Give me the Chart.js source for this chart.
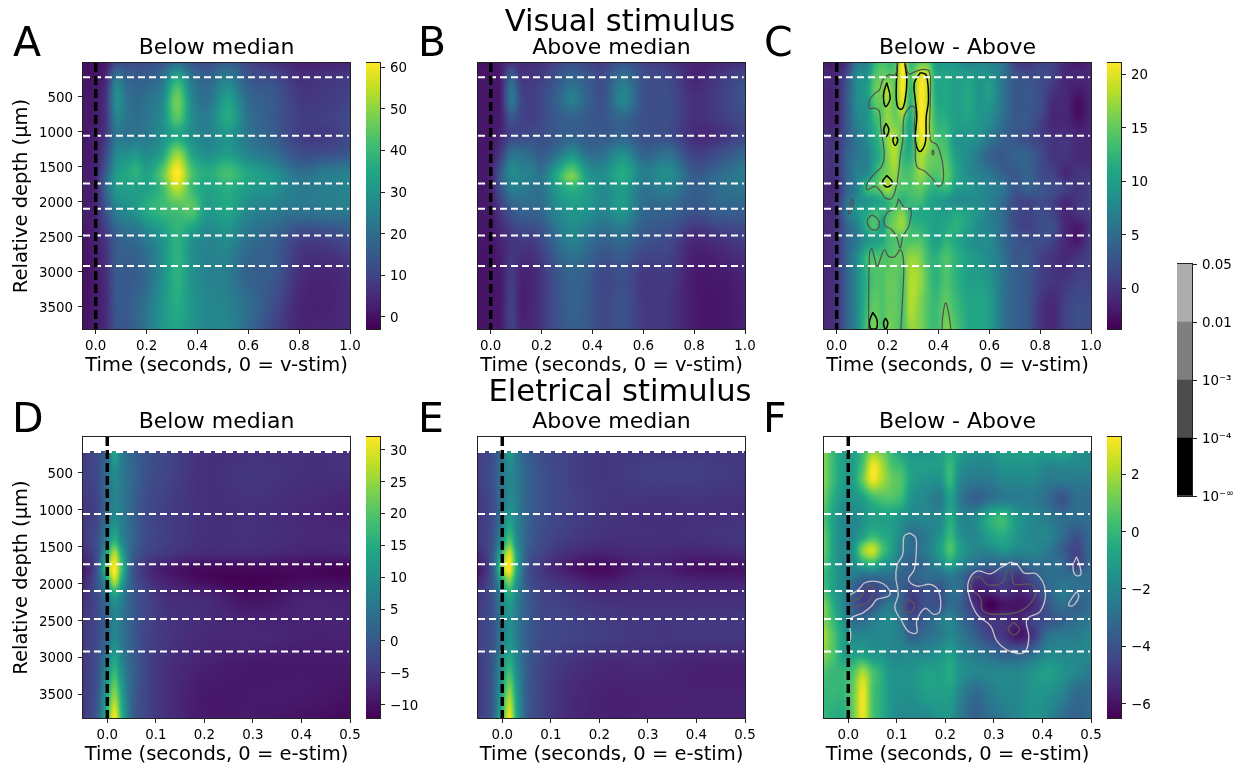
<!DOCTYPE html>
<html><head><meta charset="utf-8">
<style>
html,body{margin:0;padding:0;background:#fff;width:1247px;height:771px;overflow:hidden}
canvas{position:absolute}
.t{position:absolute;font-family:"DejaVu Sans";color:#000;white-space:nowrap;line-height:1em}
</style>
<script src="https://cdn.jsdelivr.net/npm/chart.js@4"></script>
</head><body>
<script>
// ---------- axis knots ----------
const timeAB = [-0.05,0,0.04,0.08,0.12,0.16,0.2,0.26,0.32,0.38,0.44,0.52,0.6,0.7,0.8,0.9,1.0];
const depthAB = [15,250,550,800,1050,1300,1550,1650,1800,2100,2500,3000,3500,3820];
const timeC = [-0.05,0,0.04,0.08,0.12,0.15,0.18,0.2,0.23,0.26,0.29,0.33,0.36,0.39,0.43,0.47,0.52,0.56,0.6,0.65,0.7,0.75,0.8,0.85,0.9,0.95,1.0];
const depthC = [15,200,400,650,900,1100,1350,1600,1800,2000,2150,2350,2550,2800,3100,3500,3820];
const timeDE = [-0.05,-0.02,0,0.015,0.03,0.05,0.08,0.12,0.2,0.3,0.4,0.5];
const depthDE = [203,500,1000,1400,1600,1800,1950,2200,2700,3100,3500,3820];
const timeF = [-0.05,-0.03,-0.01,0.01,0.03,0.05,0.07,0.09,0.11,0.13,0.16,0.19,0.21,0.23,0.26,0.29,0.32,0.35,0.38,0.41,0.44,0.47,0.5];
const depthF = [203,400,600,850,1100,1350,1550,1750,1900,2100,2300,2500,2700,2950,3200,3450,3820];
const layerDepths = [218,1057,1738,2100,2481,2919];
const ticksDepth = [500,1000,1500,2000,2500,3000,3500];
const ticksTimeV = [0,0.2,0.4,0.6,0.8,1.0];
const ticksTimeE = [0,0.1,0.2,0.3,0.4,0.5];
const ticksBarA = [0,10,20,30,40,50,60];
const ticksBarC = [0,5,10,15,20];
const ticksBarD = [-10,-5,0,5,10,15,20,25,30];
const ticksBarF = [-6,-4,-2,0,2];
const pLabels = ['10\u207B','10\u207B\u2074','10\u207B\u00B3','0.01','0.05'];

// ---------- values (rows = depth, columns = time) ----------
const gridA = [
[0,0,2,10,12,12,12,14,20,14,12,16,10,6,3,3,4],
[1,1,5,23,18,16,17,21,37,22,18,25,15,12,6,7,8],
[1,2,7,28,22,19,21,26,47,26,21,33,19,15,8,8,10],
[1,2,7,25,22,20,22,28,44,28,24,36,21,15,9,9,11],
[1,3,8,22,21,22,23,28,35,28,25,30,22,16,9,8,11],
[1,3,11,26,28,30,27,33,50,34,28,32,25,20,12,12,14],
[2,4,15,30,34,38,33,43,61,42,36,41,34,28,19,22,24],
[2,4,17,32,35,37,34,44,61,42,36,41,35,30,22,24,26],
[2,4,18,31,33,33,33,40,55,40,34,37,32,29,23,24,26],
[2,4,14,25,28,31,36,40,42,44,32,35,27,24,22,23,24],
[1,3,8,16,19,20,24,30,38,30,26,28,21,17,10,10,13],
[0,2,6,15,15,16,19,28,38,29,25,24,17,15,6,4,6],
[0,2,5,14,15,18,22,30,36,30,27,25,20,12,4,3,5],
[0,2,5,14,14,18,22,30,34,30,26,26,19,10,4,4,5]];
const gridB = [
[0,0,2,6,5,5,6,10,12,10,9,14,10,7,3,4,6],
[1,1,3,18,8,8,9,14,19,15,12,22,13,11,4,8,12],
[1,1,3,22,11,9,11,17,24,17,13,26,13,12,6,9,14],
[1,1,3,14,10,9,11,15,17,15,14,18,13,12,6,8,12],
[1,1,4,10,11,12,12,15,17,15,15,17,13,12,5,6,11],
[1,2,8,20,20,18,15,20,28,20,20,28,17,20,9,12,18],
[1,3,15,27,25,24,20,33,44,30,27,36,24,28,14,18,24],
[1,3,16,26,26,24,22,36,48,32,28,36,24,28,16,20,24],
[1,3,14,24,24,22,21,32,38,33,27,32,22,25,16,20,22],
[1,2,8,15,18,18,19,27,31,30,26,31,19,18,14,17,17],
[1,1,4,7,9,9,12,20,26,22,18,20,14,12,5,7,10],
[0,1,2,8,4,4,7,14,18,16,11,13,8,8,2,2,4],
[0,1,2,9,3,4,7,13,17,15,11,13,8,7,2,1,3],
[0,1,2,9,4,4,7,13,16,15,11,13,8,7,2,1,3]];
const gridC = [
[-2,-2,0,6,7,12,14,13,14,21,13,15,15,10,9,9,7,8,7,6,1,0,1,1,-1,-2,-1],
[-1,-1,2,8,9,14,15,15,15,21,14,20,18,11,11,10,10,9,9,6,3,2,2,1,-1,-1,-1],
[-1,-1,3,8,10,15,16,18,15,21,13,21,18,11,11,10,11,9,10,6,3,3,2,0,-1,-2,-1],
[-1,-1,3,8,9,14,15,17,15,19,12,21,18,12,11,10,11,9,9,6,3,3,2,-1,-1,-3,-1],
[-1,-1,3,7,9,12,15,17,16,15,11,21,18,13,12,10,10,9,8,5,3,3,1,-1,-1,-2,-1],
[0,0,3,6,8,11,14,17,18,14,11,20,18,14,13,9,9,8,6,4,3,2,1,0,0,-1,-1],
[0,0,4,6,7,10,13,16,18,13,12,18,16,15,14,10,8,6,4,3,4,4,2,0,0,-1,-1],
[0,0,4,7,8,12,15,16,17,14,14,17,15,14,15,11,8,7,6,4,3,4,2,1,-1,0,0],
[-1,-1,4,7,13,14,16,18,15,14,14,15,13,12,13,10,9,8,7,6,3,4,3,2,1,0,1],
[-1,0,5,8,9,10,11,12,14,12,13,13,11,10,9,8,8,8,7,5,2,1,2,1,-1,0,1],
[-1,0,6,9,11,13,12,13,15,16,12,11,11,10,10,11,10,9,7,5,2,1,2,1,-1,0,1],
[-1,0,4,7,12,14,10,14,16,17,13,12,11,10,11,12,10,8,7,5,2,1,2,2,-1,-2,0],
[-1,0,4,6,9,10,11,13,14,14,14,14,12,10,12,11,9,8,8,5,3,2,2,1,-1,-2,1],
[-1,0,4,8,13,14,14,14,15,15,17,16,13,12,14,12,10,9,8,6,3,3,1,0,-1,0,1],
[-1,0,4,8,12,14,14,15,15,14,18,17,14,12,14,12,10,10,9,6,4,3,1,0,0,1,1],
[-1,0,4,8,13,15,14,15,15,14,18,16,14,13,15,13,11,11,10,6,4,3,0,-1,1,2,2],
[-1,0,4,8,14,16,14,16,15,14,17,16,14,13,16,14,11,11,10,6,4,3,0,-1,1,2,2]];
const gridD = [
[-5,-2,3,14,6,2,-1,-3,-6,-6,-6,-6],
[-4,-2,4,9,6,3,-1,-3,-6,-5,-6,-6],
[-5,-3,4,8,6,2,-2,-4,-6,-6,-7,-8],
[-5,-1,8,15,8,3,-2,-4,-6,-6,-7,-7],
[-7,-1,15,27,14,2,-3,-5,-7,-7,-8,-8],
[-10,0,22,32,18,1,-6,-9,-11,-11,-11,-12],
[-8,0,14,28,14,1,-5,-8,-11,-12,-11,-11],
[-6,-2,5,11,7,1,-3,-6,-7,-10,-8,-8],
[-5,-2,3,8,5,1,-3,-5,-7,-7,-8,-8],
[-5,-1,8,15,8,2,-3,-6,-8,-9,-9,-9],
[-5,0,14,24,13,2,-3,-6,-9,-9,-9,-10],
[-5,1,18,32,16,2,-3,-6,-9,-9,-10,-11]];
const gridE = [
[-4,-2,4,12,5,1,-2,-3,-5,-5,-5,-5],
[-4,-1,5,8,6,2,-1,-3,-5,-4,-4,-5],
[-5,-2,5,10,7,2,-1,-3,-5,-6,-6,-6],
[-5,-1,10,19,9,2,-2,-4,-6,-6,-6,-5],
[-7,0,18,29,13,1,-3,-6,-8,-7,-8,-7],
[-10,0,24,32,14,0,-5,-8,-11,-8,-10,-10],
[-8,0,15,24,11,0,-4,-6,-9,-7,-8,-8],
[-5,-1,8,13,7,1,-3,-4,-6,-6,-6,-6],
[-4,-1,6,10,6,1,-2,-3,-4,-5,-5,-5],
[-5,0,10,16,8,1,-3,-5,-7,-7,-8,-8],
[-5,0,14,25,12,1,-3,-6,-8,-8,-8,-8],
[-5,1,18,31,14,1,-3,-6,-8,-8,-8,-8]];
const gridF = [
[1.5,0,-1,-1,0,1.5,1,0,-1,-1.5,-1.5,-1,-0.5,-1,-1.5,-1.5,-1,-1,-1,-1,-0.5,-1.5,-2],
[1.5,0,-1,-1,0.5,3,2,0.5,0,-1,-1,-1,0,-1.5,-2,-2,-1.5,-1.5,-1.5,-2,-2,-2,-2],
[1.5,0,-1,-1,1,3,2,1,0.5,-1,-1.5,-1.5,0,-2,-2.5,-2.5,-2,-2,-2,-2.5,-2.5,-2.5,-2.5],
[1,-0.5,-1.5,-1.5,-1,0,0.5,0.5,0,-1.5,-2,-2.5,-1,-2.5,-3.5,-3,-2.5,-2.5,-2.5,-3,-4,-3,-3],
[0.5,-1,-2,-2,-1.5,-1,-1,-1,-1.5,-2,-2,-2,-0.5,-2,-2,-0.5,0,-1.5,-2,-2.5,-3,-3,-3],
[1,-1,-2,-2,-1,0,-0.5,-1,-2,-3,-2.5,-1.5,0,-1.5,-2,-1,-0.5,-1.5,-2,-2,-3,-4,-3],
[1,-1,-2,-1.5,1.5,2.5,0.5,-1,-2.5,-3,-2.5,-1,0.5,-1,-2,-2,-1.5,-2,-2,-2.5,-3.5,-4.5,-3],
[0.5,-1,-2,-2,-1,-0.5,-1.5,-2,-3,-3.5,-3,-2,-1,-2,-3,-3.5,-3.5,-3.5,-3,-3,-3,-4.5,-3],
[0,-1,-2,-2.5,-3,-3,-3,-3,-3.5,-3.5,-3,-3,-2.5,-3,-4.5,-5,-4.5,-5,-4,-3,-3,-3,-3],
[0.5,-1,-2,-3.5,-4.5,-4.5,-4,-3.5,-3.5,-4.5,-4,-4,-3,-3,-5.5,-5.5,-5,-5.5,-5,-3.5,-2.5,-3,-3],
[1.5,-0.5,-2,-3.5,-4.5,-4,-3,-2.5,-3.5,-5,-4,-4,-3,-3.5,-5,-6.5,-6,-6,-5.5,-4,-3,-3.5,-3],
[1.5,0,-1.5,-3,-3,-2.5,-2,-2,-3,-4,-3.5,-2.5,-2,-3,-4,-5,-5,-5.5,-4.5,-4,-3.5,-3,-2.5],
[2,0.5,-1,-2,-2,-2,-2,-2,-2.5,-3.5,-3,-2.5,-2,-2.5,-3.5,-4.5,-5,-6,-5,-3,-2.5,-2.5,-2],
[1.5,0.5,-1,-1,-1,-1.5,-1.5,-2,-2,-2,-2,-1.5,-1,-2,-2.5,-3,-3.5,-3.5,-3,-2,-2,-2,-2],
[0.5,0,0,0.5,2,0.5,-0.5,-1.5,-1.5,-1.5,-1,-1,-0.5,-1.5,-2,-2,-2,-2,-1.5,-1,-1.5,-2,-2.5],
[0,0,0,1,3,0.5,-0.5,-1.5,-1.5,-1.5,-1,-1,-1,-2,-3,-2.5,-2,-2,-1.5,-1.5,-2,-3,-3],
[0,-0.5,-0.5,1,3,0.5,-0.5,-1.5,-2,-2,-2,-1.5,-1.5,-2.5,-3.5,-3,-2.5,-2,-1.5,-2,-3,-3.5,-3]];

// ---------- contours, as time,depth pairs ----------
const contoursCGrey = [
[.239,19,.230,185,.204,185,.181,257,.168,400,.151,447,.129,543,.129,662,.151,662,.168,709,.173,924,.181,1114,.187,1352,.177,1495,.151,1590,.121,1733,.118,1828,.151,1781,.173,1852,.191,1947,.217,1947,.234,1781,.243,1590,.250,1352,.260,1114,.265,781,.289,638,.302,638,.309,685,.305,924,.309,1209,.315,1495,.348,1566,.381,1686,.401,1781,.418,1709,.418,1495,.407,1305,.394,1186,.368,1114,.368,543,.365,138,.342,105,.309,138,.283,171,.271,19],
[.378,1257,.375,1295,.378,1328,.382,1295,.378,1257],
[.059,1957,.050,2090,.046,2171,.053,2162,.066,2019,.059,1957],
[.138,2186,.121,2257,.131,2376,.158,2400,.168,2305,.158,2233,.138,2186],
[.243,1957,.230,2090,.197,2162,.187,2328,.217,2400,.237,2519,.250,2662,.260,2495,.283,2352,.292,2114,.265,2076,.243,1957],
[.125,3820,.129,2733,.138,2676,.147,2781,.160,2924,.173,2805,.188,2686,.204,2781,.230,2781,.250,2686,.263,2852,.260,3305,.252,3820],
[.414,3820,.417,3638,.428,3447,.440,3590,.449,3820]];
const contoursCBlack = [
[.239,19,.234,400,.239,638,.256,676,.269,543,.276,257,.268,19],
[.329,152,.305,304,.309,543,.315,781,.309,1114,.326,1281,.348,1162,.352,781,.361,543,.352,186,.329,152],
[.197,295,.184,471,.192,638,.210,519,.197,295],
[.194,876,.185,971,.194,1067,.205,971,.194,876],
[.230,1043,.221,1114,.230,1195,.240,1114,.230,1043],
[.197,1624,.181,1709,.197,1790,.219,1724,.197,1624],
[.142,3581,.129,3709,.134,3820,.155,3820,.158,3686,.142,3581],
[.192,3662,.184,3733,.192,3820,.201,3733,.192,3662]];
const contoursFLight = [
[.003,2155,.021,2079,.034,1989,.052,1966,.072,2002,.085,2092,.083,2169,.059,2214,.048,2304,.031,2393,.007,2461,0,2528,.005,2663,.002,2798,-.002,2663],
[.127,1314,.115,1359,.112,1606,.101,1741,.098,1921,.103,2146,.096,2326,.110,2506,.124,2650,.141,2663,.141,2506,.158,2335,.176,2416,.189,2371,.186,2101,.169,2011,.141,2034,.124,1944,.136,1809,.140,1561,.139,1381,.127,1314],
[.334,1710,.313,1786,.293,1867,.265,1831,.248,1966,.248,2146,.265,2416,.293,2573,.306,2776,.331,2911,.362,2933,.372,2731,.368,2483,.396,2371,.406,2101,.389,1876,.362,1854,.348,1741,.334,1710],
[.470,1638,.463,1764,.468,1885,.479,1876,.475,1718,.470,1638],
[.470,2110,.455,2258,.455,2303,.466,2281,.475,2169,.470,2110],
[.420,2470,.423,2490,.420,2470]];
const contoursFDark = [
[.003,2236,.024,2191,.041,2034,.052,2065,.038,2259,.003,2317],
[.124,2213,.112,2303,.117,2384,.131,2371,.136,2281,.124,2213],
[.258,1921,.253,2056,.272,2191,.278,2371,.313,2416,.355,2371,.379,2236,.386,2101,.375,2011,.341,2002,.337,1831,.327,1831,.317,1989,.286,2011,.272,1912,.258,1921],
[.341,2528,.329,2609,.341,2695,.353,2618,.341,2528]];

// ---------- helpers ----------
const viridisStops = [[68,1,84],[72,36,117],[65,68,135],[53,95,141],[42,120,142],[33,145,140],[34,168,132],[68,191,112],[122,209,81],[189,223,38],[253,231,37]];
function viridis(f){
  f=Math.max(0,Math.min(1,f))*10; const i=Math.min(9,Math.floor(f)), u=f-i, a=viridisStops[i], b=viridisStops[i+1];
  return [a[0]+(b[0]-a[0])*u,a[1]+(b[1]-a[1])*u,a[2]+(b[2]-a[2])*u];
}
function hermite(xs,ys,x){
  const n=xs.length; if(x<=xs[0])return ys[0]; if(x>=xs[n-1])return ys[n-1];
  let i=0; while(xs[i+1]<x)i++;
  const h=xs[i+1]-xs[i], s=(x-xs[i])/h;
  const m0=i>0?(ys[i+1]-ys[i-1])/(xs[i+1]-xs[i-1]):(ys[1]-ys[0])/h;
  const m1=i<n-2?(ys[i+2]-ys[i])/(xs[i+2]-xs[i]):(ys[n-1]-ys[n-2])/h;
  const s2=s*s,s3=s2*s;
  return (2*s3-3*s2+1)*ys[i]+(s3-2*s2+s)*h*m0+(-2*s3+3*s2)*ys[i+1]+(s3-s2)*h*m1;
}
const heatPlugin=(times,depths,grid,cmin,cmax)=>({id:'heat',beforeDatasetsDraw(chart){
  const {ctx,chartArea:a,scales:{x,y}}=chart, L=Math.round(a.left),T=Math.round(a.top),W=Math.round(a.right-a.left),H=Math.round(a.bottom-a.top);
  const img=ctx.createImageData(W,H);
  for(let i=0;i<W;i++){
    const t=x.getValueForPixel(L+i+.5), col=grid.map(r=>hermite(times,r,t));
    for(let j=0;j<H;j++){
      const d=y.getValueForPixel(T+j+.5); if(d<depths[0])continue;
      const c=viridis((hermite(depths,col,d)-cmin)/(cmax-cmin)), o=(j*W+i)*4;
      img.data[o]=c[0];img.data[o+1]=c[1];img.data[o+2]=c[2];img.data[o+3]=255;
    }
  }
  ctx.putImageData(img,L,T);
}});
const framePlugin={id:'frame',
  beforeDraw(chart){
    const s=chart.scales.y; if(!s||s._nudged||!s.options.display)return; s._nudged=true;
    s.getLabelItems(chart.chartArea).forEach(it=>{if(it.options&&it.options.translation)it.options.translation[1]+=1.5;});
  },
  afterDatasetsDraw(chart){
    const {ctx,chartArea:a}=chart; ctx.save(); ctx.strokeStyle='#222'; ctx.lineWidth=1;
    ctx.strokeRect(a.left-.5,a.top-.5,a.right-a.left+1,a.bottom-a.top+1); ctx.restore();
  }};
const FONT='"DejaVu Sans"';
const tickFont={family:FONT,size:13.4};
const gridOpt={display:true,drawOnChartArea:false,drawTicks:true,tickLength:5,tickColor:'#222',tickWidth:1};
const fmt=v=>String(v).replace('-','\u2212');
function place(name,l,t,w,h){
  const c=document.createElement('canvas'); c.id=name; c.width=w;c.height=h;
  c.style.left=l+'px';c.style.top=t+'px';c.style.width=w+'px';c.style.height=h+'px';
  document.body.appendChild(c); return c;
}
const pairs=a=>{const o=[];for(let i=0;i<a.length;i+=2)o.push({x:a[i],y:a[i+1]});return o;};

function panel(o){
  const LM=83,RM=25,TM=40,BM=52, w=LM+(o.R-o.L)+RM, h=TM+(o.B-o.T)+BM;
  const c=place(o.name,o.L-LM,o.T-TM,w,h);
  const cells=[]; o.grid.forEach((r,j)=>r.forEach((v,i)=>cells.push({x:o.times[i],y:o.depths[j],v})));
  const line=(data,color,width,dash,tension)=>({data,borderColor:color,borderWidth:width,borderDash:dash||[],showLine:true,pointRadius:0,tension:tension||0});
  const ds=[{label:'cells',data:cells,pointRadius:0,showLine:false}];
  ds.push(line([{x:0,y:15},{x:0,y:3820}],'#000',3.5,[9,4]));
  layerDepths.forEach(d=>ds.push(line([{x:o.xmin,y:d},{x:o.xmax*0.995,y:d}],'#fff',2,[7,4])));
  (o.contours||[]).forEach(g=>g.sets.forEach(s=>ds.push(line(pairs(s),g.color,g.width,[],0.4))));
  new Chart(c,{type:'scatter',data:{datasets:ds},plugins:[heatPlugin(o.times,o.depths,o.grid,o.cmin,o.cmax),framePlugin],options:{
    responsive:false,animation:false,events:[],devicePixelRatio:1,
    layout:{padding:{left:0,right:RM,top:0,bottom:0}},
    plugins:{legend:{display:false},tooltip:{enabled:false},
      title:{display:true,fullSize:false,text:o.title,color:'#000',font:{family:FONT,size:22,weight:'normal',lineHeight:1},padding:{top:14,bottom:4}}},
    scales:{
      x:{type:'linear',min:o.xmin,max:o.xmax,position:'bottom',
        afterBuildTicks:s=>{s.ticks=o.xticks.map(v=>({value:v}));},afterFit:s=>{s.height=BM;},
        grid:gridOpt,border:{display:false},
        ticks:{font:tickFont,color:'#000',padding:4,maxRotation:0,autoSkip:false,callback:v=>v.toFixed(1)},
        title:{display:true,text:o.xlabel,color:'#000',font:{family:FONT,size:19.5,lineHeight:1},padding:{top:0,bottom:5.4}}},
      y:{type:'linear',reverse:true,min:15,max:3820,display:!!o.yAxis,
        afterBuildTicks:s=>{s.ticks=ticksDepth.map(v=>({value:v}));},afterFit:s=>{s.width=LM;},
        grid:gridOpt,border:{display:false},
        ticks:{font:tickFont,color:'#000',padding:5,autoSkip:false,callback:v=>String(v)},
        title:{display:true,text:'Relative depth (\u03BCm)',color:'#000',font:{family:FONT,size:19.5,lineHeight:1},padding:{top:12,bottom:0}}}
    }}});
}
function colorbar(name,L,T,B,cmin,cmax,ticks){
  const PAD=20,BW=14,AW=45;
  const c=place(name,L,T-PAD,BW+AW,B-T+2*PAD);
  new Chart(c,{type:'scatter',data:{datasets:[{data:[{x:0,y:cmin},{x:1,y:cmax}],pointRadius:0,showLine:false}]},
    plugins:[{id:'grad',beforeDatasetsDraw(ch){
      const {ctx,chartArea:a,scales:{y}}=ch;
      for(let p=Math.round(a.top);p<Math.round(a.bottom);p++){
        const k=viridis((y.getValueForPixel(p+.5)-cmin)/(cmax-cmin));
        ctx.fillStyle=`rgb(${k[0]|0},${k[1]|0},${k[2]|0})`; ctx.fillRect(a.left,p,a.right-a.left,1);
      }}},framePlugin],
    options:{responsive:false,animation:false,events:[],devicePixelRatio:1,
      layout:{padding:{left:0,right:0,top:PAD,bottom:PAD}},
      plugins:{legend:{display:false},tooltip:{enabled:false}},
      scales:{x:{type:'linear',display:false,min:0,max:1},
        y:{type:'linear',position:'right',min:cmin,max:cmax,
          afterBuildTicks:s=>{s.ticks=ticks.map(v=>({value:v}));},afterFit:s=>{s.width=AW;},
          grid:gridOpt,border:{display:false},
          ticks:{font:tickFont,color:'#000',padding:5,autoSkip:false,callback:fmt}}}}});
}

// ---------- panels ----------
const rangeA=[-2.9,61], rangeC=[-3.8,21.05], rangeD=[-12.1,32], rangeF=[-6.5,3.3];
const xV='Time (seconds, 0 = v-stim)', xE='Time (seconds, 0 = e-stim)';
panel({name:'A',L:83,R:350,T:63,B:329,title:'Below median',xlabel:xV,xmin:-0.05,xmax:1,xticks:ticksTimeV,times:timeAB,depths:depthAB,grid:gridA,cmin:rangeA[0],cmax:rangeA[1],yAxis:true});
panel({name:'B',L:478,R:745,T:63,B:329,title:'Above median',xlabel:xV,xmin:-0.05,xmax:1,xticks:ticksTimeV,times:timeAB,depths:depthAB,grid:gridB,cmin:rangeA[0],cmax:rangeA[1]});
panel({name:'C',L:824,R:1091,T:63,B:329,title:'Below - Above',xlabel:xV,xmin:-0.05,xmax:1,xticks:ticksTimeV,times:timeC,depths:depthC,grid:gridC,cmin:rangeC[0],cmax:rangeC[1],
  contours:[{sets:contoursCGrey,color:'#505050',width:1.2},{sets:contoursCBlack,color:'#000',width:1.5}]});
panel({name:'D',L:83,R:350,T:437,B:718,title:'Below median',xlabel:xE,xmin:-0.05,xmax:0.5,xticks:ticksTimeE,times:timeDE,depths:depthDE,grid:gridD,cmin:rangeD[0],cmax:rangeD[1],yAxis:true});
panel({name:'E',L:478,R:745,T:437,B:718,title:'Above median',xlabel:xE,xmin:-0.05,xmax:0.5,xticks:ticksTimeE,times:timeDE,depths:depthDE,grid:gridE,cmin:rangeD[0],cmax:rangeD[1]});
panel({name:'F',L:824,R:1091,T:437,B:718,title:'Below - Above',xlabel:xE,xmin:-0.05,xmax:0.5,xticks:ticksTimeE,times:timeF,depths:depthF,grid:gridF,cmin:rangeF[0],cmax:rangeF[1],
  contours:[{sets:contoursFLight,color:'#c9c2cb',width:1.3},{sets:contoursFDark,color:'#5a565c',width:1.4}]});
colorbar('barA',366,63,329,rangeA[0],rangeA[1],ticksBarA);
colorbar('barC',1107,63,329,rangeC[0],rangeC[1],ticksBarC);
colorbar('barD',366,437,718,rangeD[0],rangeD[1],ticksBarD);
colorbar('barF',1107,437,718,rangeF[0],rangeF[1],ticksBarF);

// ---------- p-value bar ----------
const pBands=[{c:'#000000'},{c:'#4c4c4c'},{c:'#7f7f7f'},{c:'#adadad'}];
(function(){
  const c=place('barP',1177,244,70,272);
  new Chart(c,{type:'bar',data:{labels:['p'],datasets:pBands.map(b=>({data:[1],backgroundColor:b.c,borderWidth:0,barPercentage:1,categoryPercentage:1,stack:'p'}))},
    plugins:[framePlugin,{id:'inf',afterDraw(ch){
      const {ctx,chartArea:a,scales:{y}}=ch; ctx.save(); ctx.fillStyle='#000';ctx.textBaseline='middle';
      ctx.font=tickFont.size+'px '+FONT; const w=ctx.measureText(pLabels[0]).width;
      ctx.font='9.5px '+FONT; ctx.fillText('\u221E',a.right+10+w,y.getPixelForValue(0)-2.5); ctx.restore();
    }}],
    options:{responsive:false,animation:false,events:[],devicePixelRatio:1,
      layout:{padding:{left:0,right:0,top:20,bottom:20}},
      plugins:{legend:{display:false},tooltip:{enabled:false}},
      scales:{x:{display:false,stacked:true},
        y:{type:'linear',position:'right',stacked:true,min:0,max:4,
          afterBuildTicks:s=>{s.ticks=[0,1,2,3,4].map(v=>({value:v}));},afterFit:s=>{s.width=55;},
          grid:gridOpt,border:{display:false},
          ticks:{font:tickFont,color:'#000',padding:5,autoSkip:false,callback:v=>pLabels[v]}}}}});
})();

// ---------- free text ----------
const texts=[['Visual stimulus',620,32,30.6,true],['Eletrical stimulus',620,402,30.6,true],
 ['A',13,57,41],['B',418,57,41],['C',764,57,41],['D',12,433,41],['E',418,433,41],['F',763,433,41]];
texts.forEach(([s,x,base,size,center])=>{
  const d=document.createElement('div'); d.className='t'; d.textContent=s;
  d.style.fontSize=size+'px'; d.style.left=x+'px'; d.style.top=(base-0.846*size)+'px';
  if(center)d.style.transform='translateX(-50%)';
  document.body.appendChild(d);
});
</script>
</body></html>
